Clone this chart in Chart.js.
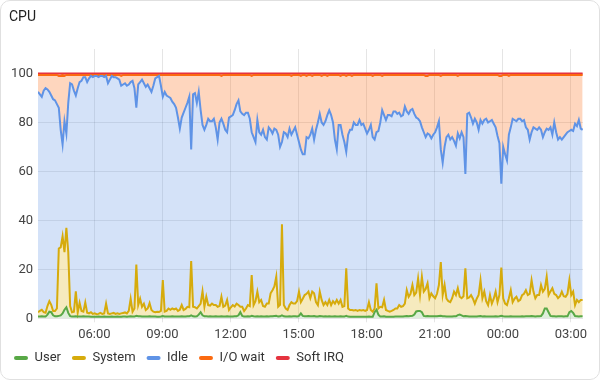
<!DOCTYPE html>
<html><head><meta charset="utf-8">
<script src="https://cdn.jsdelivr.net/npm/chart.js@4.4.1/dist/chart.umd.min.js"></script>
<style>
html,body{margin:0;padding:0;background:#fff;}
#wrap{position:relative;width:600px;height:380px;overflow:hidden;background:#fff;}
#title{position:absolute;left:9px;top:8px;font-family:Roboto;font-size:14px;line-height:17px;color:#212121;}
#border{position:absolute;left:0;top:0;width:600px;height:380px;box-sizing:border-box;border:1px solid #e0e0e0;border-radius:10px;pointer-events:none;}
canvas{position:absolute;left:0;top:0;}
</style></head>
<body><div id="wrap"><canvas id="c" width="600" height="380"></canvas><div id="title">CPU</div><div id="border"></div></div>
<script>
// time axis: minutes since 00:00 of the first day, 5-minute samples
const START_MIN = 211;
const STEP_MIN = 5;
const X_MIN = 211, X_MAX = 1652;
const X_TICKS = [360, 540, 720, 900, 1080, 1260, 1440, 1620]; // 06:00 ... 03:00
const Y_TICKS_STEP = 20;

// cumulative levels (%)
const userPct = [
0.7,0.7,0.8,0.7,0.7,1.5,2.7,2.5,1.2,0.8,
0.8,1,1.2,2,3.5,4.5,2.2,0.9,0.7,0.7,
0.8,0.7,0.7,0.7,0.8,0.7,0.7,0.7,0.6,0.6,
0.6,0.6,0.7,0.6,0.6,0.7,0.6,0.6,0.6,0.7,
0.6,0.6,0.7,0.6,0.6,0.7,0.7,0.6,0.7,0.8,
0.7,0.7,1,0.8,0.8,0.7,0.7,0.7,0.7,0.8,
0.7,0.7,0.7,0.6,0.6,0.7,0.9,0.7,0.7,0.7,
0.7,0.8,0.7,0.7,0.7,0.7,0.8,0.7,0.7,0.8,
0.8,1.2,0.8,0.7,0.8,1.5,2.5,1.2,0.8,0.8,
0.7,0.8,0.7,0.7,0.8,0.7,0.7,0.8,0.7,0.7,
0.8,0.7,0.7,0.7,0.8,0.8,1.2,2.5,1,0.7,
0.7,0.8,0.7,1,0.8,0.7,0.8,0.7,0.8,0.7,
0.7,0.8,0.7,0.8,0.8,0.9,1,0.7,0.8,1.2,
0.8,0.7,0.7,0.8,0.7,0.8,0.8,0.7,1,2,
1,0.8,0.8,0.9,0.8,0.8,0.9,0.7,0.7,0.9,
0.8,0.7,0.8,0.7,0.8,0.7,0.7,0.8,0.7,0.7,
0.8,0.7,0.7,1,0.7,0.6,0.6,0.6,0.6,0.6,
0.6,0.6,0.6,0.6,0.6,0.7,0.6,0.6,2.5,3.5,
1.5,0.7,0.7,0.8,0.6,0.6,0.6,0.6,0.6,0.7,
0.7,0.7,0.7,0.7,0.8,0.9,0.8,0.9,1,1.5,
2.8,3,3,2.5,1,0.8,0.9,0.8,0.8,0.8,
0.8,0.8,0.9,1,0.8,0.8,0.7,0.7,0.7,0.7,
0.8,0.8,1.3,1.5,1.2,0.8,0.9,0.8,0.7,0.7,
0.7,0.7,0.7,0.8,0.9,0.7,0.8,0.7,0.7,0.7,
0.7,0.7,0.8,0.7,0.8,1,0.8,0.7,0.7,0.7,
0.8,0.7,0.7,0.7,0.7,0.7,0.8,0.7,0.8,0.8,
0.8,0.9,0.8,0.7,0.8,0.8,0.9,2,4,4,
2.5,1,0.8,0.8,0.7,0.8,0.8,0.8,0.7,0.8,
0.8,2.5,3,2.2,0.9,0.8,0.7,0.8,0.8];

const systemPct = [
2.5,3,3.5,2.5,2.3,5,7,5.5,3,3,
4,28.5,29,33.5,27,37,27,5,2.5,2.7,
11,2.3,6.3,3,2.7,6.5,2.3,2,2.5,1.8,
2,1.7,1.8,2.2,1.8,2,6,2,1.8,2,
2.2,1.8,2,1.8,2,2.2,2.4,2,3,8,
2.7,4,22,5.4,8,4.7,6,3.4,4,6.2,
3.4,2.7,2.5,2.7,2.6,3,15.6,2.7,3,4,
3.5,4,3.6,4,3,3.5,5.4,3.4,3.8,4.7,
4.5,23.4,4.7,4.5,4,5,6,11,4.7,8.8,
5.4,5.2,6,5.4,5.4,4.7,5,8.8,4.7,5.2,
7.5,3.4,4.5,5.4,4.8,6,5.4,4.7,4.7,3,
4,5.4,5,17.7,5.4,7,10.9,6.6,7.5,5,
4.7,6,6,10.2,11.5,13,17,4.7,5.5,38.4,
5.4,4,3.4,5.4,6.6,6,6,7,10.9,6.6,
8,9.5,10,10.9,8.2,10.9,10.2,6.6,5.4,10.9,
7.5,5.4,6.6,5.4,7.5,5.4,7,6,7.5,6,
7.5,4.7,5,20.4,4,3.4,3.4,3.2,3.4,3,
3.4,3.2,3.4,3,3.4,6.6,3.4,2.7,4,14.3,
4,4.7,4.5,7.5,3.4,3,2.7,3,3.4,4,
4,5.4,4.7,5,6,11.5,8.8,10,13.6,9.5,
10.5,16.3,9.5,17,10.9,12,14.3,8.2,10.2,9,
8.2,10,13.6,23,9.5,13.6,8,7,6.6,8.2,
10.9,9.5,12.3,8.8,8.2,9,20.4,8.2,8.5,9.5,
8,6,8,9.5,15.6,8.2,10.9,7,5.4,9.5,
6,8,10.9,6.6,9.5,20.7,8.2,6,5.4,8.2,
11.5,6.6,8,8.8,7,7.5,9.5,10,11.5,9.5,
10,15.6,10.9,8.2,9.5,9.5,13.6,10.9,12,17,
9.5,11,12.3,10,9.5,8.2,9,10.9,9,8.8,
10,15.6,9.5,10.9,5.4,7.5,6.6,7.5,7.5];

const idlePct = [
92.5,91.5,90.5,93,94,93.5,92.5,91,89.5,89,
87.5,86,77,71,80.5,75.5,88,96,95.5,93,
91,94,96.5,97,98.5,98.5,96.5,98,99,98.5,
99,99,98.5,99,99,98.5,99,96,97.5,99,
98.5,98.5,98,97.5,95,95.5,96,95,95.5,96.5,
97,94,86,95.5,96.5,97.5,96,94.5,95.5,94,
92.5,95,98,98.5,99,95,90.5,92.5,91,90.5,
90,88.5,87.5,86,82,77.5,82,84,86,88,
90.5,69,91.5,92,88,92.5,85,79,77,79,
81.5,80.5,80.5,81.5,78,73,80,81.5,79.5,77,
76,82,82.5,83,85,87.5,89,84.5,83.5,83,
84,84,81.5,76,74,72,81,76,75,77,
74,73,78,77,75.5,77.5,77,75,70,72,
76,75.5,74,77.5,75,76.5,78,75,72,69,
67,67,74,73.5,75,77.5,73,77,80,83.5,
80,79,80.5,83,85,83,80,73,69,79,
79,75,72,68,75,77,77,80,79,79,
81,79,79.5,77.5,75.5,77,79,74,73,76,
76.5,80,85,83,81,83,83,82.5,84.5,84.5,
83.5,84,82.5,83,86.5,84.5,83.5,85,85.5,83.5,
82,81.5,80.5,78,76,74,75.5,75,73.5,75,
76,78,80.5,69,63.5,70,74,75,73,74,
72.5,70.5,75.5,73.5,76,74,59,83.5,84,82,
79.5,81.5,80,77,81,79.5,81,81.5,80,80.5,
81,79.5,78,74.5,71.5,55,70,67,64.5,75,
78,81.5,81,80.5,81.5,81.5,80.5,81,78,77,
73,76,78,77.5,77,78,77,74,76,77.5,
77,78,75,80,76,73,74,73,74,75,
76,76.5,77,76.5,79.5,78.5,81,77.5,77];

const ioWaitPct = [
99.4,99.4,99.4,99.4,99.4,99.4,99.4,99.4,99.4,99.4,
99.4,99,99,99.4,99,99.4,99.4,99.4,99.4,99.4,
99.4,99.4,99.4,99.4,99.4,99.4,99.4,99.4,99.4,99.4,
99.4,99.4,99.4,99.4,99.4,99.4,99.4,99.4,99.4,99.4,
99.4,99.4,99.4,99.4,99,99.4,99.4,99.4,99.4,99.4,
99.4,99.4,99.4,99.4,99.4,99.4,99.4,99.4,99.4,99.4,
99.4,99.4,99.4,99.4,99.4,99.4,99.4,99.4,99.4,99.4,
99.4,99.4,99.4,99.4,99.4,99.4,99.4,99.4,99.4,99.4,
99.4,99.4,99.4,99.4,99.4,99.4,99.4,99.4,99.4,99.4,
99.4,99.4,99.4,99.4,99.4,99.4,99.4,99,99.4,99.4,
99.4,99.4,99.4,99.4,99.4,99.4,99.4,99.4,99.4,99.4,
99.4,99.4,99.4,99,99.4,99.4,99.4,99.4,99.4,99.4,
99.4,99.4,99.4,99.4,99.4,99.4,99.4,99.4,99.4,99.4,
99.4,99.4,99.4,99.4,99,99.4,99.4,99.4,99.4,99,
99.4,99.4,99,99.4,99.4,99,99.4,99.4,99.4,99.4,
99,99.4,99.4,99,99.4,99.4,99.4,99.4,99.4,99.4,
99,99.4,99.4,99,99.4,99.4,99,99.4,99.4,99.4,
99.4,99.4,99.4,99.4,99.4,99.4,99.4,99,99.4,99.4,
99.4,99.4,99,99.4,99.4,99.4,99.4,99.4,99.4,99.4,
99.4,99.4,99.4,99.4,99.4,99.4,99.4,99.4,99.4,99.4,
99.4,99.4,99.4,99.4,99.4,99,99,99.4,99.4,99.4,
99.4,99.4,99.4,99,99.4,99.4,99.4,99.4,99.4,99.4,
99.4,99.4,99,99.4,99.4,99.4,99.4,99.4,99.4,99.4,
99.4,99.4,99.4,99.4,99.4,99.4,99.4,99.4,99.4,99.4,
99.4,99.4,99.4,99.4,99,99,99.4,99.4,99.4,99,
99.4,99.4,99.4,99.4,99.4,99.4,99.4,99.4,99.4,99.4,
99.4,99.4,99.4,99.4,99.4,99.4,99.4,99.4,99.4,99.4,
99.4,99.4,99.4,99.4,99.4,99.4,99.4,99.4,99.4,99.4,
99.4,99.4,99.4,99.4,99.4,99.4,99.4,99.4,99.4];

const softIrqPct = [
100,100,100,100,100,100,100,100,100,100,100,100,100,100,100,100,100,100,100,100,
100,100,100,100,100,100,100,100,100,100,100,100,100,100,100,100,100,100,100,100,
100,100,100,100,100,100,100,100,100,100,100,100,100,100,100,100,100,100,100,100,
100,100,100,100,100,100,100,100,100,100,100,100,100,100,100,100,100,100,100,100,
100,100,100,100,100,100,100,100,100,100,100,100,100,100,100,100,100,100,100,100,
100,100,100,100,100,100,100,100,100,100,100,100,100,100,100,100,100,100,100,100,
100,100,100,100,100,100,100,100,100,100,100,100,100,100,100,100,100,100,100,100,
100,100,100,100,100,100,100,100,100,100,100,100,100,100,100,100,100,100,100,100,
100,100,100,100,100,100,100,100,100,100,100,100,100,100,100,100,100,100,100,100,
100,100,100,100,100,100,100,100,100,100,100,100,100,100,100,100,100,100,100,100,
100,100,100,100,100,100,100,100,100,100,100,100,100,100,100,100,100,100,100,100,
100,100,100,100,100,100,100,100,100,100,100,100,100,100,100,100,100,100,100,100,
100,100,100,100,100,100,100,100,100,100,100,100,100,100,100,100,100,100,100,100,
100,100,100,100,100,100,100,100,100,100,100,100,100,100,100,100,100,100,100,100,
100,100,100,100,100,100,100,100,100];

const seriesLabels = ['User','System','Idle','I/O wait','Soft IRQ'];
const times = userPct.map((_, i) => START_MIN + i * STEP_MIN);

function fmtTime(v){
  const m = ((v % 1440) + 1440) % 1440;
  const h = Math.floor(m / 60), mm = Math.round(m % 60);
  return String(h).padStart(2,'0') + ':' + String(mm).padStart(2,'0');
}
function mk(label, vals, color, fillColor, fill){
  return {label, data: vals.map((v,i)=>({x: times[i], y: v})), borderColor: color,
    backgroundColor: fillColor, fill, borderWidth: 2, pointRadius: 0, tension: 0};
}
const FONT = 'Roboto';
new Chart(document.getElementById('c'), {
  type: 'line',
  data: {datasets: [
    mk(seriesLabels[0], userPct,    '#58a846', 'rgba(88,168,70,0.2)',  'origin'),
    mk(seriesLabels[1], systemPct,  '#d6ab0c', 'rgba(222,180,20,0.28)', '-1'),
    mk(seriesLabels[2], idlePct,    '#5f93e6', 'rgba(95,147,230,0.27)', '-1'),
    mk(seriesLabels[3], ioWaitPct,  '#fb6a10', 'rgba(251,120,40,0.3)', '-1'),
    mk(seriesLabels[4], softIrqPct, '#e5333f', 'rgba(229,51,63,0.3)', '-1')
  ]},
  options: {
    responsive: false, animation: false, devicePixelRatio: 1,
    layout: {padding: {left: 3, right: 17, top: 49, bottom: 5.5}},
    plugins: {
      legend: {position: 'bottom', align: 'start',
        labels: {boxWidth: 14, boxHeight: 4, useBorderRadius: true, borderRadius: 2, padding: 11,
          color: '#333', font: {family: FONT, size: 13},
          generateLabels(chart){
            const items = Chart.defaults.plugins.legend.labels.generateLabels(chart);
            items.forEach(it => { const ds = chart.data.datasets[it.datasetIndex];
              it.fillStyle = ds.borderColor; it.strokeStyle = ds.borderColor; it.lineWidth = 0; });
            return items;
          }}},
      tooltip: {enabled: false}
    },
    scales: {
      x: {type: 'linear', min: X_MIN, max: X_MAX,
        afterBuildTicks(a){ a.ticks = X_TICKS.map(v => ({value: v})); },
        afterFit(a){ a.height = 22.2; },
        grid: {color: 'rgba(0,0,0,0.1)', tickLength: 4},
        border: {display: false},
        ticks: {autoSkip: false, maxRotation: 0, padding: 5,
          color: '#444', font: {family: FONT, size: 13}, callback: v => fmtTime(v)}},
      y: {min: 0, max: 110, afterFit(a){ a.width = 35; },
        grid: {color: 'rgba(0,0,0,0.1)', drawTicks: false},
        border: {display: false},
        ticks: {stepSize: Y_TICKS_STEP, includeBounds: false, padding: 5,
          color: '#444', font: {family: FONT, size: 13}}}
    }
  }
});
</script>
</body></html>
